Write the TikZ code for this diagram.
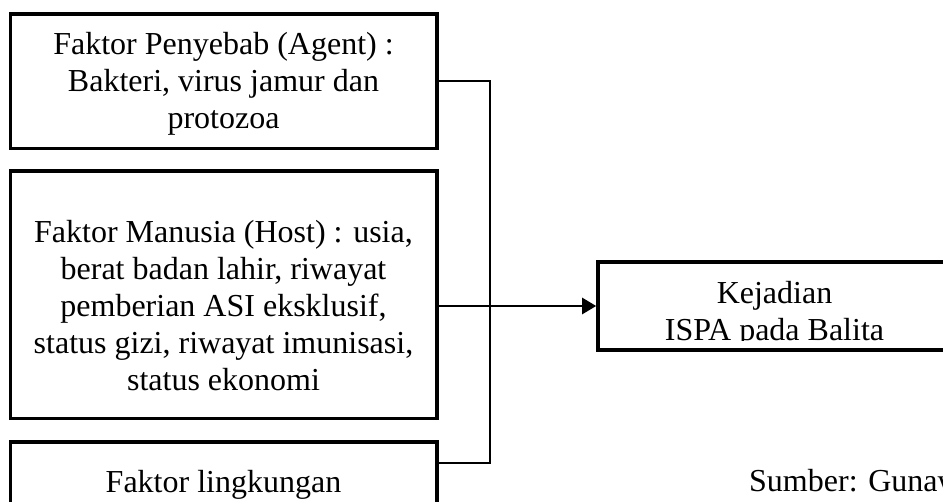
\documentclass[tikz,border=0pt]{standalone}
\usepackage{fontspec}
\setmainfont{Liberation Serif}
\usetikzlibrary{arrows.meta}
\tikzset{
  box/.style={draw=black, line width=3.6pt, inner sep=0pt},
  txt/.style={align=center, inner sep=0pt, font=\fontsize{32}{36.8}\selectfont},
  thinline/.style={line width=1.3pt, black},
  arrowline/.style={line width=2.6pt, -{Triangle[length=14pt,width=16pt]}},
}
\begin{document}
\begin{tikzpicture}[x=1pt,y=-1pt]
\useasboundingbox (0,0) rectangle (943,501);
\clip (0,0) rectangle (943,501);
% boxes
\node[box, minimum width=426.5pt, minimum height=134.5pt] (b1) at (223.75,81.25) {};
\node[box, minimum width=426.5pt, minimum height=247.5pt] (b2) at (223.75,294.75) {};
\node[box, minimum width=426.5pt, minimum height=88pt] (b4) at (223.75,486) {};
\node[box, minimum width=353pt, minimum height=88pt] (b5) at (774.5,306) {};
% texts (base anchor = baseline of the last line)
\node[txt, anchor=base] (t1) at (223.5,128) {Faktor Penyebab (Agent) :\\Bakteri, virus jamur dan\\protozoa};
\node[txt, anchor=base] (t2) at (223.5,390) {Faktor Manusia (Host) : usia,\\berat badan lahir, riwayat\\pemberian ASI eksklusif,\\status gizi, riwayat imunisasi,\\status ekonomi};
\node[txt, anchor=base] (t4) at (223.5,492) {Faktor lingkungan};
\begin{scope}
\clip (598,262) rectangle (951,340.5);
\node[txt, anchor=base] (t5) at (774.5,340) {Kejadian\\ISPA pada Balita};
\end{scope}
\node[txt, anchor=base west] (src) at (749,491) {Sumber: Gunaw};
% connectors
\coordinate (j1) at (490,81);
\coordinate (j4) at (490,463);
\coordinate (e4) at (437,463);
\draw[thinline] (b1.east |- j1) -- (j1) -- (j4) -- (e4);
\draw[arrowline] (b2.east |- b5.west) -- (b5.west);
\end{tikzpicture}
\end{document}
